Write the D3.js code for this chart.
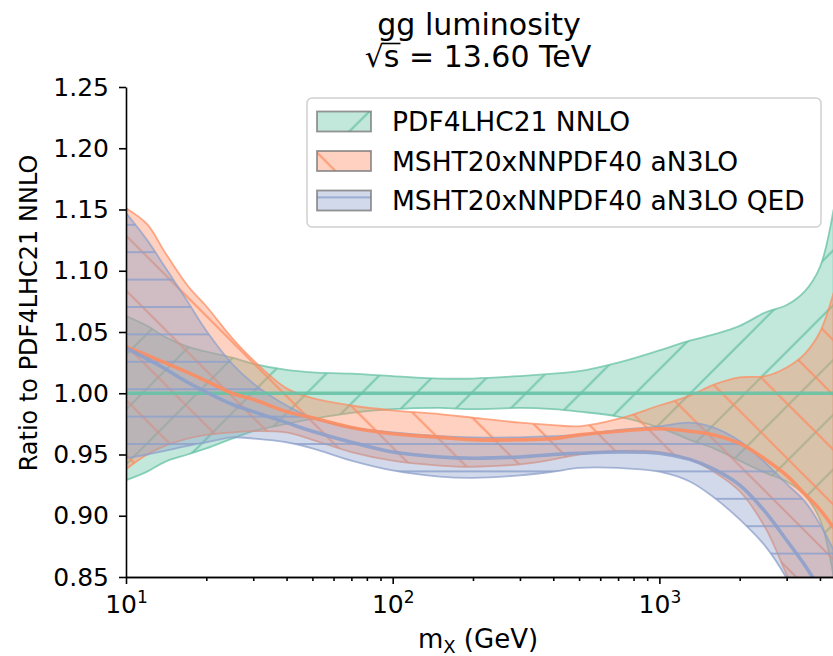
<!DOCTYPE html>
<html>
<head>
    <meta charset="utf-8">
    <title>gg luminosity ratio</title>
    <script src="https://d3js.org/d3.v7.min.js"></script>
    <style>
        body { margin: 0; background: #fff; }
        text { font-family: "DejaVu Sans", sans-serif; fill: #000; }
        .axis path, .axis line { stroke: #000; stroke-width: 1.6; }
    </style>
</head>
<body>
    <div id="chart"></div>

    <script>
const mass = [10, 12, 14, 17, 20, 25, 30, 40, 50, 70, 100, 150, 200, 300, 400, 500, 700, 1000, 1300, 1600, 2000, 2500, 3000, 3500, 4000, 4500];

// PDF4LHC21 NNLO (reference, so central value is 1)
const pdf4lhcUp  = [1.063, 1.055, 1.046, 1.038, 1.034, 1.029, 1.024, 1.019, 1.017, 1.016, 1.014, 1.012, 1.012, 1.014, 1.016, 1.018, 1.025, 1.035, 1.043, 1.048, 1.055, 1.066, 1.072, 1.083, 1.103, 1.150];
const pdf4lhcMid = [1, 1, 1, 1, 1, 1, 1, 1, 1, 1, 1, 1, 1, 1, 1, 1, 1, 1, 1, 1, 1, 1, 1, 1, 1, 1];
const pdf4lhcLo  = [0.929, 0.936, 0.944, 0.950, 0.955, 0.963, 0.969, 0.975, 0.979, 0.984, 0.987, 0.988, 0.987, 0.988, 0.987, 0.985, 0.981, 0.972, 0.962, 0.955, 0.945, 0.935, 0.928, 0.917, 0.897, 0.850];

// MSHT20xNNPDF40 aN3LO
const an3loUp  = [1.151, 1.138, 1.115, 1.088, 1.071, 1.045, 1.027, 1.004, 0.996, 0.990, 0.986, 0.983, 0.980, 0.976, 0.974, 0.973, 0.979, 0.990, 0.998, 1.007, 1.013, 1.014, 1.021, 1.032, 1.050, 1.082];
const an3loMid = [1.038, 1.031, 1.025, 1.017, 1.010, 1.000, 0.995, 0.985, 0.980, 0.972, 0.967, 0.964, 0.962, 0.962, 0.963, 0.966, 0.969, 0.971, 0.969, 0.966, 0.959, 0.946, 0.933, 0.918, 0.905, 0.890];
const an3loLo  = [0.938, 0.950, 0.957, 0.963, 0.966, 0.968, 0.969, 0.968, 0.962, 0.952, 0.945, 0.941, 0.940, 0.942, 0.946, 0.950, 0.953, 0.952, 0.946, 0.936, 0.920, 0.890, 0.852, 0.820, 0.790, 0.770];

// MSHT20xNNPDF40 aN3LO QED
const qedUp  = [1.147, 1.125, 1.103, 1.075, 1.051, 1.024, 1.008, 0.990, 0.980, 0.972, 0.968, 0.965, 0.964, 0.964, 0.965, 0.966, 0.970, 0.973, 0.976, 0.972, 0.961, 0.943, 0.926, 0.912, 0.893, 0.872];
const qedMid = [1.037, 1.028, 1.020, 1.009, 1.001, 0.991, 0.985, 0.976, 0.969, 0.960, 0.952, 0.948, 0.947, 0.948, 0.950, 0.951, 0.952, 0.951, 0.946, 0.938, 0.925, 0.903, 0.880, 0.860, 0.840, 0.820];
const qedLo  = [0.947, 0.950, 0.953, 0.957, 0.960, 0.964, 0.963, 0.960, 0.955, 0.945, 0.937, 0.932, 0.931, 0.933, 0.936, 0.939, 0.939, 0.936, 0.928, 0.915, 0.897, 0.875, 0.849, 0.820, 0.790, 0.770];

const seriesNames = ["PDF4LHC21 NNLO", "MSHT20xNNPDF40 aN3LO", "MSHT20xNNPDF40 aN3LO QED"];
const yTicks = [0.85, 0.90, 0.95, 1.00, 1.05, 1.10, 1.15, 1.20, 1.25];
const xMajor = [10, 100, 1000];
const xMinor = [20, 30, 40, 50, 60, 70, 80, 90, 200, 300, 400, 500, 600, 700, 800, 900, 2000, 3000, 4000];

        const width = 833;
        const height = 656;
        const plotLeft = 126, plotRight = 833.6, plotTop = 87, plotBottom = 577;

        const bands = [
            {name: seriesNames[0], up: pdf4lhcUp, mid: pdf4lhcMid, lo: pdf4lhcLo, color: "#66c2a5", hatch: "hatch-g"},
            {name: seriesNames[1], up: an3loUp, mid: an3loMid, lo: an3loLo, color: "#fc8d62", hatch: "hatch-o"},
            {name: seriesNames[2], up: qedUp, mid: qedMid, lo: qedLo, color: "#8da0cb", hatch: "hatch-b"}
        ];

        const svg = d3.select("#chart")
            .append("svg")
            .attr("width", width)
            .attr("height", height);

        const xScale = d3.scaleLog()
            .domain([10, 4500])
            .range([plotLeft, plotRight]);

        const yScale = d3.scaleLinear()
            .domain([0.85, 1.25])
            .range([plotBottom, plotTop]);

        const defs = svg.append("defs");
        defs.append("clipPath").attr("id", "plot-clip")
            .append("rect")
            .attr("x", plotLeft).attr("y", plotTop)
            .attr("width", plotRight - plotLeft).attr("height", plotBottom - plotTop);

        // hatches anchored to page coordinates, like matplotlib does
        const s = 54.8;
        const pg = defs.append("pattern").attr("id", "hatch-g")
            .attr("patternUnits", "userSpaceOnUse")
            .attr("x", 42.4).attr("y", 0).attr("width", s).attr("height", s);
        pg.append("path")
            .attr("d", `M0,${s}L${s},0M-5,5L5,-5M${s-5},${s+5}L${s+5},${s-5}`)
            .attr("stroke", "#66c2a5").attr("stroke-width", 2).attr("stroke-opacity", 0.8);

        const po = defs.append("pattern").attr("id", "hatch-o")
            .attr("patternUnits", "userSpaceOnUse")
            .attr("x", 0).attr("y", 0).attr("width", s).attr("height", s);
        po.append("path")
            .attr("d", `M0,0L${s},${s}M-5,${s-5}L5,${s+5}M${s-5},-5L${s+5},5`)
            .attr("stroke", "#fc8d62").attr("stroke-width", 2).attr("stroke-opacity", 0.8);

        const pb = defs.append("pattern").attr("id", "hatch-b")
            .attr("patternUnits", "userSpaceOnUse")
            .attr("x", 0).attr("y", -8.1).attr("width", s).attr("height", 27.4);
        pb.append("path")
            .attr("d", `M0,13.7L${s},13.7`)
            .attr("stroke", "#8da0cb").attr("stroke-width", 2).attr("stroke-opacity", 0.8);

        const plot = svg.append("g").attr("clip-path", "url(#plot-clip)");

        const area = d3.area()
            .curve(d3.curveCatmullRom)
            .x(d => xScale(d.m))
            .y0(d => yScale(d.lo))
            .y1(d => yScale(d.up));

        const line = d3.line()
            .curve(d3.curveCatmullRom)
            .x(d => xScale(d.m))
            .y(d => yScale(d.v));

        bands.forEach(b => {
            const pts = mass.map((m, i) => ({m: m, lo: b.lo[i], up: b.up[i]}));
            plot.append("path")
                .attr("d", area(pts))
                .attr("fill", b.color)
                .attr("fill-opacity", 0.4)
                .attr("stroke", b.color)
                .attr("stroke-opacity", 0.75)
                .attr("stroke-width", 1.8);
            plot.append("path")
                .attr("d", area(pts))
                .attr("fill", `url(#${b.hatch})`);
        });

        bands.forEach(b => {
            plot.append("path")
                .attr("d", line(mass.map((m, i) => ({m: m, v: b.mid[i]}))))
                .attr("fill", "none")
                .attr("stroke", b.color)
                .attr("stroke-opacity", 0.9)
                .attr("stroke-width", 3.6);
        });

        // axes
        const yAxis = svg.append("g")
            .attr("class", "axis")
            .attr("transform", `translate(${plotLeft},0)`)
            .call(d3.axisLeft(yScale).tickValues(yTicks).tickFormat(d3.format(".2f")).tickSize(7).tickSizeOuter(0).tickPadding(10));
        yAxis.selectAll("text").style("font-size", "25px");

        svg.append("g")
            .attr("class", "axis")
            .attr("transform", `translate(0,${plotBottom})`)
            .call(d3.axisBottom(xScale).tickValues(xMinor).tickFormat("").tickSize(4).tickSizeOuter(0));

        const xAxis = svg.append("g")
            .attr("class", "axis")
            .attr("transform", `translate(0,${plotBottom})`)
            .call(d3.axisBottom(xScale).tickValues(xMajor).tickFormat("").tickSize(7).tickSizeOuter(0));

        xAxis.selectAll(".tick").append("text")
            .attr("y", 36)
            .attr("text-anchor", "middle")
            .style("font-size", "25px")
            .each(function(d) {
                const t = d3.select(this);
                t.append("tspan").text("10");
                t.append("tspan").attr("dy", -10).style("font-size", "17px").text(Math.round(Math.log10(d)));
            });

        // axis titles
        const xl = svg.append("text")
            .attr("x", 478)
            .attr("y", 648)
            .attr("text-anchor", "middle")
            .style("font-size", "26px");
        xl.append("tspan").text("m");
        xl.append("tspan").attr("dy", 5).style("font-size", "18px").text("X");
        xl.append("tspan").attr("dy", -5).text(" (GeV)");

        svg.append("text")
            .attr("transform", "translate(37,313) rotate(-90)")
            .attr("text-anchor", "middle")
            .style("font-size", "24px")
            .text("Ratio to PDF4LHC21 NNLO");

        // title
        svg.append("text")
            .attr("x", 479)
            .attr("y", 35)
            .attr("text-anchor", "middle")
            .style("font-size", "30px")
            .text("gg luminosity");

        const t2 = svg.append("text")
            .attr("x", 478)
            .attr("y", 67)
            .attr("text-anchor", "middle")
            .style("font-size", "30px");
        t2.append("tspan").text("√");
        t2.append("tspan").text("s");
        t2.append("tspan").text(" = 13.60 TeV");
        const sBox = t2.node().getExtentOfChar(1);
        const rootBox = t2.node().getExtentOfChar(0);
        svg.append("line")
            .attr("x1", rootBox.x + rootBox.width - 1.5).attr("x2", sBox.x + sBox.width + 1)
            .attr("y1", 67 - 23.5).attr("y2", 67 - 23.5)
            .attr("stroke", "#000").attr("stroke-width", 1.6);

        // legend
        const lg = svg.append("g");
        lg.append("rect")
            .attr("x", 307).attr("y", 98)
            .attr("width", 514).attr("height", 129)
            .attr("rx", 5)
            .attr("fill", "#fff").attr("fill-opacity", 0.8)
            .attr("stroke", "#d0d0d0").attr("stroke-width", 1.5);

        const rowY = d3.scalePoint().domain(seriesNames).range([121.5, 200.5]);
        bands.forEach(b => {
            const cy = rowY(b.name);
            lg.append("rect")
                .attr("x", 317).attr("y", cy - 10)
                .attr("width", 54).attr("height", 20)
                .attr("fill", b.color).attr("fill-opacity", 0.4);
            lg.append("rect")
                .attr("x", 317).attr("y", cy - 10)
                .attr("width", 54).attr("height", 20)
                .attr("fill", `url(#${b.hatch})`)
                .attr("stroke", "#7a7a7a").attr("stroke-opacity", 0.8).attr("stroke-width", 1.8);
            lg.append("text")
                .attr("x", 392).attr("y", cy)
                .attr("dominant-baseline", "central")
                .style("font-size", "26.5px")
                .text(b.name);
        });
    </script>
</body>
</html>
